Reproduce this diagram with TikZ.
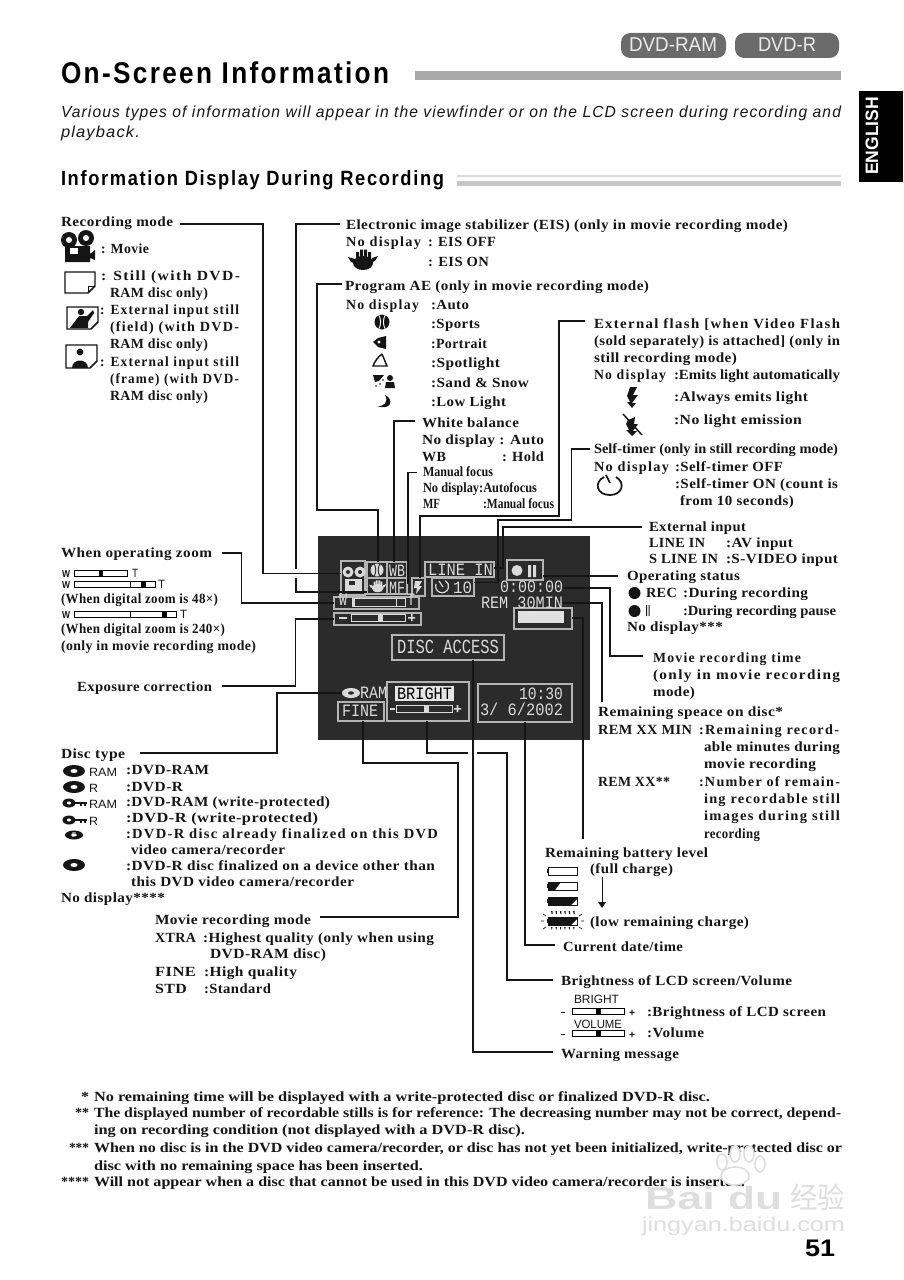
\documentclass[tikz,border=0pt]{standalone}
\usepackage{graphicx}
\usepackage{fontspec}
\setmainfont{Liberation Serif}[Ligatures=TeX]
\newfontfamily\bodyf{Liberation Serif}[LetterSpace=3]
\newfontfamily\widef{Liberation Serif}[LetterSpace=9]
\newfontfamily\sansf{Liberation Sans}
\newfontfamily\lcdf{Liberation Mono}
\newfontfamily\headf{Liberation Sans}[LetterSpace=9]
\newfontfamily\introf{Liberation Sans}[LetterSpace=7]
\newfontfamily\cjkf{Noto Sans CJK SC}
\definecolor{lcdbg}{HTML}{2B2B2B}
\definecolor{lcdw}{HTML}{DADADA}
\definecolor{lcdl}{HTML}{B4B4B4}
\definecolor{ink}{HTML}{151515}
\definecolor{wm}{HTML}{DEDEDE}
\newcounter{tn}
\newcommand\Tx[5][]{\stepcounter{tn}\node[txt,#1] (t\thetn) at (#2,#3) {\resizebox{\dimexpr #4pt*3/4-#2pt*3/4\relax}{\height}{#5}};}
\newcommand\Bx[5]{\node[lbox,minimum width=\dimexpr #4pt*3/4-#2pt*3/4\relax,minimum height=\dimexpr #5pt*3/4-#3pt*3/4\relax] (#1) at ({(#2+#4)/2},{(#3+#5)/2}) {};}
\newcommand\Bar[6]{% x0,y0,x1,y1,knobx0,knobx1
 \draw[line width=.6pt] (#1,#2) rectangle (#3,#4);\fill (#5,#2) rectangle (#6,#4);}
\newcommand\Disc[4]{\fill[ink] (#1,#2) ellipse [x radius=#3,y radius=#4];\fill[white] (#1,#2) ellipse [x radius=#3*.32,y radius=#4*.34];}
\newcommand\KeyDisc[2]{\Disc{#1}{#2}{6.5}{4.5}\fill[ink] (#1+6,#2-1) rectangle (#1+18,#2+.5);\fill[ink] (#1+11,#2) rectangle (#1+13,#2+3);\fill[ink] (#1+15,#2) rectangle (#1+17,#2+3);}
\newcommand\Hand[4]{\begin{scope}[shift={(#1,#2)},scale=#3]\fill[#4] (15,14) ellipse [x radius=10,y radius=7];
 \fill[#4] (8,3) rectangle (11,12) (12,0.5) rectangle (15,12) (16,0.5) rectangle (19,12) (20,3) rectangle (23,12);
 \fill[#4] (0,8) -- (7,10) -- (8,15) -- (3,13) -- cycle;\fill[#4] (30,7) -- (24,9) -- (22,14) -- (27,12) -- cycle;\end{scope}}
\newcommand\Ball[5]{\fill[#4] (#1,#2) circle [radius=#3];\draw[#5,line width=.7pt] (#1-.45*#3,#2-#3) .. controls (#1-.1*#3,#2-.3*#3) and (#1-.1*#3,#2+.3*#3) .. (#1-.45*#3,#2+#3);\draw[#5,line width=.7pt] (#1+.45*#3,#2-#3) .. controls (#1+.1*#3,#2-.3*#3) and (#1+.1*#3,#2+.3*#3) .. (#1+.45*#3,#2+#3);}
\newcommand\Batt[3]{% x0,y0,kind
 \draw[ink,line width=.6pt] (#1+1,#2) rectangle (#1+30,#2+8);\fill[ink] (#1,#2+2) rectangle (#1+1,#2+6);
 \ifcase#3\or\fill[ink] (#1+1,#2) -- (#1+14,#2) -- (#1+8,#2+8) -- (#1+1,#2+8) -- cycle;\or\fill[ink] (#1+1,#2) -- (#1+30,#2) -- (#1+30,#2+2) -- (#1+24,#2+8) -- (#1+1,#2+8) -- cycle;\fi}
\tikzset{x=.75pt,y=-.75pt,
 txt/.style={anchor=base west,inner sep=0pt,outer sep=0pt,text=ink,font=\bodyf\bfseries\fontsize{10.5}{13}\selectfont},
 wt/.style={font=\widef\bfseries\fontsize{10.5}{13}\selectfont},
 nt/.style={font=\bfseries\fontsize{10.5}{13}\selectfont},
 conn/.style={draw=ink,line width=1.3pt},
 lbox/.style={draw=lcdl,line width=.9pt,inner sep=0pt,outer sep=0pt},
 lcdt/.style={font=\lcdf\fontsize{13}{15}\selectfont,text=lcdw},
 sant/.style={font=\sansf\fontsize{9}{11}\selectfont,text=ink},
 pill/.style={fill=#1,rounded corners=7pt,inner sep=0pt,outer sep=0pt}}
\begin{document}
\begin{tikzpicture}
\useasboundingbox (0,0) rectangle (903,1280);
\fill[white] (0,0) rectangle (903,1280);
% ---------- header
\node[pill=black!58,minimum width=78.75pt,minimum height=18.75pt] (pillRam) at (673.5,45.5) {};
\node[pill=black!58,minimum width=78pt,minimum height=18.75pt] (pillR) at (787,45.5) {};
\Tx[font=\sansf\fontsize{15}{17}\selectfont,text=white!92!black]{629}{52}{717}{DVD-RAM}
\Tx[font=\sansf\fontsize{15}{17}\selectfont,text=white!92!black]{758}{52}{816}{DVD-R}
\Tx[font=\headf\bfseries\fontsize{22.5}{25}\selectfont,text=black]{61}{84}{389}{On-Screen Information}
\fill[black!34] (415,71) rectangle (841,80);
\Tx[font=\introf\itshape\fontsize{12}{14}\selectfont,text=ink]{61}{118}{841}{Various types of information will appear in the viewfinder or on the LCD screen during recording and}
\Tx[font=\introf\itshape\fontsize{12}{14}\selectfont,text=ink]{61}{138}{140}{playback.}
\Tx[font=\headf\bfseries\fontsize{15.5}{18}\selectfont,text=black]{61}{186}{444}{Information Display During Recording}
\fill[black!15] (457,175.5) rectangle (841,177);
\fill[black!22] (457,181) rectangle (841,186);
\fill[black] (859,91) rectangle (903,182);
\node[rotate=90,inner sep=0pt,text=white,font=\sansf\bfseries\fontsize{13.5}{15}\selectfont] (tabEng) at (872,136) {\resizebox{58.5pt}{\height}{ENGLISH}};
% ---------- LCD panel
\fill[lcdbg] (318,536) rectangle (590,740);
\Bx{bMode}{341}{561}{365}{595}
\Bx{bAE}{367}{562}{387}{578}
\Bx{bWB}{387}{562}{407}{578}
\Bx{bEIS}{367}{578}{387}{594}
\Bx{bMF}{387}{578}{407}{594}
\Bx{bFlash}{412}{578}{425}{596}
\Bx{bLine}{425}{562}{494}{577}
\Bx{bTimer}{432}{578}{474}{596}
\Bx{bRec}{507}{560}{543}{580}
\Bx{bBatt}{514}{608}{572}{629}
\Bx{bZoom}{334}{597}{419}{609}
\Bx{bExp}{334}{613}{421}{625}
\Bx{bAccess}{392}{635}{504}{660}
\Bx{bFine}{338}{702}{384}{721}
\Bx{bBright}{387}{682}{469}{721}
\Bx{bDate}{478}{684}{572}{722}
\begin{scope}[lcdw]
 \fill[lcdw] (348,572) circle [radius=5.5] (360,572) circle [radius=5.5];
 \fill[lcdbg] (348,572) circle [radius=2] (360,572) circle [radius=2];
 \fill[lcdw] (345,579) rectangle (362,591);
 \fill[lcdbg] (349,581) rectangle (355,585);
 \Ball{377}{570}{6.5}{lcdw}{lcdbg}
 \Hand{369}{580}{.58}{lcdw}
 \fill (415,581) -- (422,581) -- (419,586) -- (422,586) -- (416,594) -- (417,588) -- (414,588) -- cycle;
 \draw[lcdw,line width=.9pt] (436,584) arc (200:-60:6.5);
 \draw[lcdw,line width=.9pt] (439,581) -- (443,587);
 \fill (517,570.5) circle [radius=5.5];
 \fill (528,565) rectangle (531,577) (533,565) rectangle (536,577);
 \fill[white!88!black] (518,611) rectangle (564,623);
 \fill[lcdw] (352,599) rectangle (355,606);
 \draw[lcdw,line width=.7pt] (352,598) rectangle (405,606) (396,598) -- (396,606);
 \draw[lcdw,line width=.7pt] (351,614) rectangle (405,621);
 \fill (378,614) rectangle (383,621);
 \fill (339,617) rectangle (347,618.5);
 \fill (408,617) rectangle (415,618.5) (411,614) rectangle (412.5,621);
 \fill (351,693) ellipse [x radius=9,y radius=5];
 \fill[lcdbg] (351,693) ellipse [x radius=3,y radius=1.7];
 \fill[white!90!black] (395,686) rectangle (454,701);
 \draw[lcdw,line width=.7pt] (396,705) rectangle (452,712);
 \fill (424,705) rectangle (429,712);
 \fill (390,708) rectangle (395,709.5);
 \fill (454,708) rectangle (461,709.5) (456.7,705) rectangle (458.3,712);
\end{scope}
\Tx[lcdt]{339}{605}{347}{W}
\Tx[lcdt]{407}{605}{415}{T}
\Tx[lcdt]{389}{576}{405}{WB}
\Tx[lcdt]{389}{593}{405}{MF}
\Tx[lcdt]{428}{575}{493}{LINE IN}
\Tx[lcdt]{453}{593}{472}{10}
\Tx[lcdt]{500}{592}{563}{0:00:00}
\Tx[lcdt]{481}{608}{563}{REM 30MIN}
\Tx[lcdt,font=\lcdf\fontsize{15}{17}\selectfont]{397}{653}{499}{DISC ACCESS}
\Tx[lcdt]{360}{698}{387}{RAM}
\Tx[lcdt]{342}{716}{378}{FINE}
\Tx[lcdt,text=black]{397}{699}{452}{BRIGHT}
\Tx[lcdt]{519}{699}{563}{10:30}
\Tx[lcdt]{480}{715}{563}{3/ 6/2002}
% ---------- named connector ends
\coordinate (eRec) at (180,224);
\coordinate (eEIS) at (340,224);
\coordinate (eAE) at (342,284);
\coordinate (eWB) at (415,421);
\coordinate (eMF) at (417,472.5);
\coordinate (eFlash) at (585,321);
\coordinate (eTimer) at (590,449);
\coordinate (eExt) at (642,527);
\coordinate (eOp) at (618,576);
\coordinate (eMovie) at (643,656);
\coordinate (eRem) at (602,702);
\coordinate (eBatt) at (583,839);
\coordinate (eDate) at (555,945);
\coordinate (eBr) at (553,980);
\coordinate (eWarn) at (553,1052);
\coordinate (eFine) at (320,917);
\coordinate (eDisc) at (140,753);
\coordinate (eDiscIcon) at (342,693);
\coordinate (eZoom) at (222,553);
\coordinate (eExp) at (222,686);
\coordinate (sTime) at (563,588);
\coordinate (sRem) at (563,603);
% ---------- connectors
\draw[conn] (eRec) -- (263,224) -- (263,573.5) -- (263,573.5 -| bMode.west);
\draw[conn] (eEIS) -- (296,224) -- (296,569);
\draw[conn] (296,578) -- (296,592) -- (296,592 -| bEIS.west);
\draw[conn] (eAE) -- (317,284) -- (317,510) -- (378,510) -- (378,510 |- bAE.north);
\draw[conn] (eWB) -- (394,421) -- (394,421 |- bWB.north);
\draw[conn] (eMF) -- (408,472.5) -- (408,583) -- (408,583 -| bMF.east);
\draw[conn] (eFlash) -- (559,321) -- (559,516) -- (420,516) -- (420,516 |- bFlash.north);
\draw[conn] (eTimer) -- (571.5,449) -- (571.5,520) -- (498,520) -- (498,582.5) -- (498,582.5 -| bTimer.east);
\draw[conn] (eExt) -- (503,527) -- (503,568) -- (503,568 -| bLine.east);
\draw[conn] (bRec.east |- eOp) -- (eOp);
\draw[conn] (sTime) -- (610,588) -- (610,656) -- (eMovie);
\draw[conn] (sRem) -- (602,603) -- (eRem);
\draw[conn] (bBatt.east |- 572,618) -- (583,618) -- (eBatt);
\draw[conn] (525,722 |- bDate.south) -- (525,945) -- (eDate);
\draw[conn] (427,721 |- bBright.south) -- (427,753) -- (468,753);
\draw[conn] (477,753) -- (507,753) -- (507,980) -- (eBr);
\draw[conn] (473,660 |- bAccess.south) -- (473,1052) -- (eWarn);
\draw[conn] (363,721 |- bFine.south) -- (363,763) -- (458,763) -- (458,917) -- (eFine);
\draw[conn] (eDisc) -- (277,753) -- (277,693) -- (eDiscIcon);
\draw[conn] (eZoom) -- (241.5,553) -- (241.5,603) -- (241.5,603 -| bZoom.west);
\draw[conn] (eExp) -- (295.5,686) -- (295.5,619) -- (295.5,619 -| bExp.west);
% ---------- left: recording mode
\Tx{61}{227}{173}{Recording mode}
\fill[ink] (69,240) circle [radius=8] (86,238) circle [radius=8];
\fill[white] (69,240) circle [radius=3] (86,238) circle [radius=3];
\fill[ink] (65,246) rectangle (90,262) (90,254) -- (95,250) -- (95,260) -- (90,258) -- cycle;
\fill[white] (70,248) rectangle (78,254);
\Tx{101}{253}{149}{: Movie}
\draw[ink,line width=1.1pt] (65,272) -- (95,272) -- (95,286) -- (88,293) -- (65,293) -- cycle;
\draw[ink,line width=.7pt] (95,286) -- (88,286) -- (88,293);
\Tx[wt]{101}{280}{240}{: Still (with DVD-}
\Tx{110}{297}{208}{RAM disc only)}
\draw[ink,line width=1.1pt] (67,307) -- (98,307) -- (98,322) -- (91,329) -- (67,329) -- cycle;
\fill[ink] (81,312) circle [radius=3.2] (70,328) -- (79,316) -- (87,316) -- (93,310) -- (94,313) -- (88,322) -- (88,328) -- cycle;
\Tx[wt]{100}{314}{239}{: External input still}
\Tx[wt]{110}{331}{239}{(field) (with DVD-}
\Tx{110}{348}{208}{RAM disc only)}
\draw[ink,line width=1.1pt] (66,345) -- (97,345) -- (97,361) -- (90,368) -- (66,368) -- cycle;
\fill[ink] (80,352) circle [radius=3.4] (72,368) .. controls (72,358) and (88,358) .. (88,368) -- cycle;
\Tx[wt]{100}{366}{239}{: External input still}
\Tx[wt]{110}{383}{239}{(frame) (with DVD-}
\Tx{110}{400}{208}{RAM disc only)}
% ---------- left: zoom
\Tx{61}{557}{212}{When operating zoom}
\Tx[sant,font=\sansf\bfseries\fontsize{7.5}{9}\selectfont]{62}{577}{70}{W}
\Bar{74}{570}{127}{576}{99}{103}
\Tx[sant]{132}{577}{138}{T}
\Tx[sant,font=\sansf\bfseries\fontsize{7.5}{9}\selectfont]{62}{588}{70}{W}
\Bar{74}{581}{155}{587}{141}{146}
\draw[line width=.6pt] (130,581) -- (130,587);
\Tx[sant]{158}{588}{165}{T}
\Tx{61}{603}{218}{(When digital zoom is 48×)}
\Tx[sant,font=\sansf\bfseries\fontsize{7.5}{9}\selectfont]{62}{618}{70}{W}
\Bar{74}{611}{176}{617}{162}{167}
\draw[line width=.6pt] (130,611) -- (130,617);
\Tx[sant]{180}{618}{187}{T}
\Tx{61}{633}{225}{(When digital zoom is 240×)}
\Tx{61}{650}{256}{(only in movie recording mode)}
\Tx{77}{691}{212}{Exposure correction}
% ---------- left: disc type
\Tx{61}{758}{125}{Disc type}
\Disc{74}{771}{11}{6}
\Tx[sant]{89}{776}{117}{RAM}
\Tx{126}{774}{209}{:DVD-RAM}
\Disc{74}{787}{11}{6}
\Tx[sant]{89}{792}{98}{R}
\Tx{126}{791}{183}{:DVD-R}
\KeyDisc{69}{803}
\Tx[sant]{89}{808}{117}{RAM}
\Tx{126}{806}{330}{:DVD-RAM (write-protected)}
\KeyDisc{69}{820}
\Tx[sant]{89}{825}{98}{R}
\Tx{126}{822}{318}{:DVD-R (write-protected)}
\Disc{74}{835}{9}{4.5}
\Tx[font=\sansf\bfseries\fontsize{5}{6}\selectfont,text=white]{72}{837}{76}{F}
\Tx[wt]{126}{838}{438}{:DVD-R disc already finalized on this DVD}
\Tx{131}{854}{285}{video camera/recorder}
\Disc{74}{865}{11}{6}
\Tx{126}{870}{435}{:DVD-R disc finalized on a device other than}
\Tx{131}{886}{354}{this DVD video camera/recorder}
\Tx{61}{902}{165}{No display****}
% ---------- movie recording mode
\Tx{155}{924}{311}{Movie recording mode}
\Tx{155}{942}{196}{XTRA}
\Tx{203}{942}{434}{:Highest quality (only when using}
\Tx{210}{958}{326}{DVD-RAM disc)}
\Tx{155}{976}{196}{FINE}
\Tx{204}{976}{297}{:High quality}
\Tx{155}{993}{187}{STD}
\Tx{204}{993}{271}{:Standard}
% ---------- EIS
\Tx{346}{229}{788}{Electronic image stabilizer (EIS) (only in movie recording mode)}
\Tx[wt]{346}{247}{421}{No display}
\Tx{428}{247}{496}{: EIS OFF}
\Hand{348}{249}{1}{ink}
\Tx{428}{266}{489}{: EIS ON}
% ---------- Program AE
\Tx{345}{290}{649}{Program AE (only in movie recording mode)}
\Tx[wt]{346}{309}{419}{No display}
\Tx{431}{309}{469}{:Auto}
\Ball{382}{322}{7.5}{ink}{white}
\Tx{431}{328}{480}{:Sports}
\fill[ink] (373,342) -- (378,338) -- (386,336) -- (386,349) -- (378,347) -- cycle;
\fill[white] (379,342) circle [radius=1.6];
\Tx{431}{348}{487}{:Portrait}
\draw[ink,line width=1.1pt] (382,354) -- (387,366) -- (373,366) .. controls (375,361) and (378,357) .. (382,354);
\Tx{431}{367}{500}{:Spotlight}
\fill[ink] (373,375) -- (384,375) -- (379,381) -- (375,382) -- cycle;
\fill[ink] (390,378) circle [radius=3] (385,388) -- (386,382) -- (394,382) -- (395,388) -- cycle;
\fill[ink] (380,384) circle [radius=.9] (376,386) circle [radius=.9] (383,380) circle [radius=.9];
\Tx{431}{387}{529}{:Sand \& Snow}
\fill[ink] (385,395) .. controls (394,399) and (392,411) .. (377,406) .. controls (384,407) and (389,402) .. (385,395) -- cycle;
\Tx{431}{406}{506}{:Low Light}
% ---------- white balance, manual focus
\Tx{422}{427}{519}{White balance}
\Tx{422}{444}{544}{No display : Auto}
\Tx{422}{461}{446}{WB}
\Tx{502}{461}{544}{: Hold}
\Tx[nt]{423}{476}{493}{Manual focus}
\Tx[nt]{423}{492}{537}{No display:Autofocus}
\Tx[nt]{423}{508}{440}{MF}
\Tx[nt]{483}{508}{554}{:Manual focus}
% ---------- flash
\Tx[wt]{594}{328}{840}{External flash [when Video Flash}
\Tx{594}{345}{840}{(sold separately) is attached] (only in}
\Tx{594}{362}{737}{still recording mode)}
\Tx[wt]{594}{379}{666}{No display}
\Tx[nt]{674}{379}{840}{:Emits light automatically}
\fill[ink] (630,387) -- (637,387) -- (633,395) -- (638,395) -- (632,403) -- (636,403) -- (632,408) -- (627,402) -- (630,402) -- (627,396) -- cycle;
\Tx{674}{401}{808}{:Always emits light}
\fill[ink] (628,420) -- (635,417) -- (634,424) -- (638,424) -- (633,431) -- (637,431) -- (632,436) -- (626,430) -- (629,430) -- (626,424) -- cycle;
\draw[ink,line width=1.1pt] (623,414) -- (642,435);
\Tx{674}{424}{802}{:No light emission}
% ---------- self timer
\Tx[nt]{594}{453}{838}{Self-timer (only in still recording mode)}
\Tx[wt]{594}{471}{669}{No display}
\Tx{675}{471}{783}{:Self-timer OFF}
\draw[ink,line width=1.3pt] (604,477) .. controls (594,482) and (596,495) .. (610,495) .. controls (622,495) and (626,483) .. (616,477);
\draw[ink,line width=1.3pt] (606,475) -- (610,483);
\Tx{675}{488}{838}{:Self-timer ON (count is}
\Tx{680}{505}{794}{from 10 seconds)}
% ---------- external input, status
\Tx{649}{531}{746}{External input}
\Tx{649}{547}{705}{LINE IN}
\Tx{726}{547}{793}{:AV input}
\Tx{649}{563}{718}{S LINE IN}
\Tx{726}{563}{838}{:S-VIDEO input}
\Tx{627}{580}{740}{Operating status}
\fill[ink] (634.5,593) circle [radius=6];
\Tx{646}{597}{677}{REC}
\Tx{683}{597}{808}{:During recording}
\fill[ink] (634.5,611) circle [radius=6];
\fill[ink] (646,605) rectangle (647,616) (648.5,605) rectangle (649.5,616);
\Tx[nt]{683}{615}{836}{:During recording pause}
\Tx{627}{631}{723}{No display***}
\Tx[wt]{653}{662}{801}{Movie recording time}
\Tx[wt]{653}{679}{840}{(only in movie recording}
\Tx{653}{696}{695}{mode)}
% ---------- remaining space
\Tx{598}{716}{783}{Remaining speace on disc*}
\Tx{598}{734}{692}{REM XX MIN}
\Tx[wt]{699}{734}{839}{:Remaining record-}
\Tx{704}{751}{840}{able minutes during}
\Tx{704}{768}{816}{movie recording}
\Tx{598}{786}{670}{REM XX**}
\Tx[wt]{699}{786}{840}{:Number of remain-}
\Tx[wt]{704}{803}{840}{ing recordable still}
\Tx[wt]{704}{820}{840}{images during still}
\Tx{704}{838}{760}{recording}
% ---------- battery
\Tx{545}{857}{708}{Remaining battery level}
\Batt{547}{867}{0}
\Tx{590}{873}{673}{(full charge)}
\Batt{547}{882}{1}
\Batt{547}{897}{2}
\Batt{547}{917}{2}
\draw[ink,line width=.6pt] (602,877) -- (602,903);
\fill[ink] (598,902) -- (606,902) -- (602,908) -- cycle;
\foreach \i in {0,...,5}{\fill[ink] (551+\i*4.4,911) -- (552.5+\i*4.4,911) -- (552.5+\i*4.4,914) -- (551.7+\i*4.4,914) -- cycle;\fill[ink] (551+\i*4.4,927) -- (552.5+\i*4.4,927) -- (551.8+\i*4.4,930) -- cycle;}
\draw[ink,line width=.5pt] (541,921) -- (544,921) (581,921) -- (584,921) (543,914) -- (546,916) (543,929) -- (546,927) (582,914) -- (579,916) (582,929) -- (579,927);
\Tx{590}{926}{749}{(low remaining charge)}
\Tx{563}{951}{683}{Current date/time}
\Tx{561}{985}{792}{Brightness of LCD screen/Volume}
\Tx[sant]{574}{1003}{619}{BRIGHT}
\fill[ink] (561,1012) rectangle (565,1013);
\Bar{572}{1008}{624}{1014}{596}{601}
\Tx[sant,font=\sansf\bfseries\fontsize{8}{9}\selectfont]{629}{1016}{635}{+}
\Tx{647}{1016}{826}{:Brightness of LCD screen}
\Tx[sant]{574}{1028}{622}{VOLUME}
\fill[ink] (561,1034) rectangle (565,1035);
\Bar{572}{1030}{624}{1036}{596}{601}
\Tx[sant,font=\sansf\bfseries\fontsize{8}{9}\selectfont]{629}{1038}{635}{+}
\Tx{647}{1037}{704}{:Volume}
\Tx{561}{1058}{679}{Warning message}
% ---------- footnotes
\Tx[nt]{81}{1101}{89}{*}
\Tx[nt]{94}{1101}{710}{No remaining time will be displayed with a write-protected disc or finalized DVD-R disc.}
\Tx[nt]{75}{1117}{89}{**}
\Tx[nt]{94}{1117}{841}{The displayed number of recordable stills is for reference: The decreasing number may not be correct, depend-}
\Tx[nt]{94}{1134}{525}{ing on recording condition (not displayed with a DVD-R disc).}
\Tx[nt]{69}{1152}{89}{***}
\Tx[nt]{94}{1152}{842}{When no disc is in the DVD video camera/recorder, or disc has not yet been initialized, write-protected disc or}
\Tx[nt]{94}{1170}{423}{disc with no remaining space has been inserted.}
\Tx[nt]{61}{1186}{89}{****}
\Tx[nt]{94}{1186}{745}{Will not appear when a disc that cannot be used in this DVD video camera/recorder is inserted.}
% ---------- page number, watermark
\Tx[font=\sansf\bfseries\fontsize{18}{20}\selectfont,text=black]{805}{1256}{835}{51}
\begin{scope}[draw=wm,fill=white,line width=1.2pt]
 \filldraw (735,1176) ellipse [x radius=14,y radius=9];
 \filldraw (722,1162) ellipse [x radius=5,y radius=8];
 \filldraw (735,1154) ellipse [x radius=5,y radius=8];
 \filldraw (749,1154) ellipse [x radius=5,y radius=8];
 \filldraw (760,1164) ellipse [x radius=5,y radius=8];
\end{scope}
\Tx[font=\sansf\bfseries\fontsize{24}{26}\selectfont,text=wm]{645}{1209}{715}{Bai}
\Tx[font=\sansf\bfseries\fontsize{24}{26}\selectfont,text=wm]{728}{1209}{782}{du}
\Tx[font=\cjkf\fontsize{22}{24}\selectfont,text=wm]{790}{1208}{845}{经验}
\Tx[font=\sansf\fontsize{15}{17}\selectfont,text=wm]{642}{1231}{845}{jingyan.baidu.com}
\end{tikzpicture}
\end{document}
